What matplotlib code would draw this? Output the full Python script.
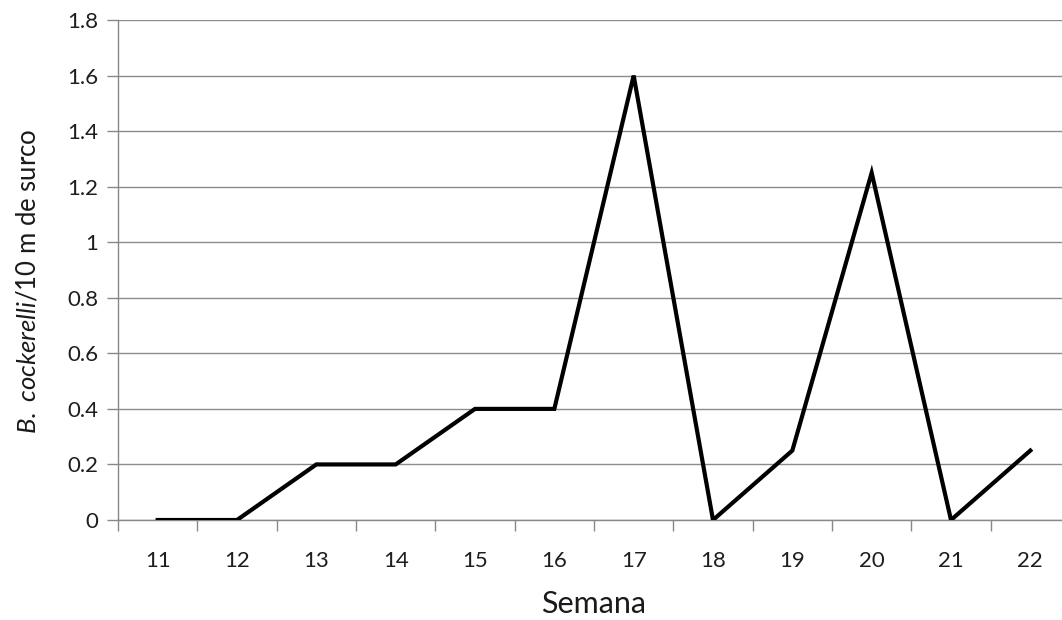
import matplotlib
matplotlib.use("Agg")
import matplotlib.pyplot as plt
import numpy as np

# datos
semanas = ["11", "12", "13", "14", "15", "16", "17", "18", "19", "20", "21", "22"]
psilidos = [0, 0, 0.2, 0.2, 0.4, 0.4, 1.6, 0, 0.25, 1.25, 0, 0.25]
y_ticks = [0, 0.2, 0.4, 0.6, 0.8, 1, 1.2, 1.4, 1.6, 1.8]
y_labels = ["0", "0.2", "0.4", "0.6", "0.8", "1", "1.2", "1.4", "1.6", "1.8"]

plt.rcParams['font.family'] = ['Lato', 'DejaVu Sans']
plt.rcParams['mathtext.fontset'] = 'custom'
plt.rcParams['mathtext.it'] = 'Lato:italic'
plt.rcParams['mathtext.rm'] = 'Lato'

fig = plt.figure(figsize=(10.62, 6.2), dpi=100)
# el area de trazado se sale un poco por la derecha, como en el original
ax = fig.add_axes([118 / 1062, 100 / 620, 952 / 1062, 500 / 620])

x = np.arange(len(semanas))
ax.plot(x, psilidos, color='black', linewidth=3, solid_joinstyle='miter', zorder=3)

ax.set_xlim(-0.5, len(semanas) - 0.5)
ax.set_ylim(0, 1.8)
ax.set_yticks(y_ticks)
ax.set_yticklabels(y_labels, fontsize=16, color='#1e1e1e')

# marcas entre categorias, etiquetas centradas
ax.set_xticks(np.arange(len(semanas) + 1) - 0.5)
ax.set_xticklabels([])
ax.set_xticks(x, minor=True)
ax.set_xticklabels(semanas, minor=True, fontsize=16, color='#1e1e1e')
ax.tick_params(axis='x', which='major', length=8, color='#888888', width=1)
ax.tick_params(axis='x', which='minor', length=0, pad=22)
ax.tick_params(axis='y', length=8, color='#888888', width=1, pad=6)

ax.grid(axis='y', color='#8c8c8c', linewidth=1)
ax.set_axisbelow(True)
for s in ['top', 'right']:
    ax.spines[s].set_visible(False)
for s in ['left', 'bottom']:
    ax.spines[s].set_color('#888888')
    ax.spines[s].set_linewidth(1)

fig.text(594 / 1062, 1 - 604 / 620, "Semana", fontsize=22, ha='center', va='center', color='#1a1a1a')
fig.text(28 / 1062, 1 - 281 / 620, r"$\mathit{B.\ cockerelli}$/10 m de surco", fontsize=18.5,
         rotation=90, ha='center', va='center', color='#1a1a1a')

plt.savefig('out.png', dpi=100)
